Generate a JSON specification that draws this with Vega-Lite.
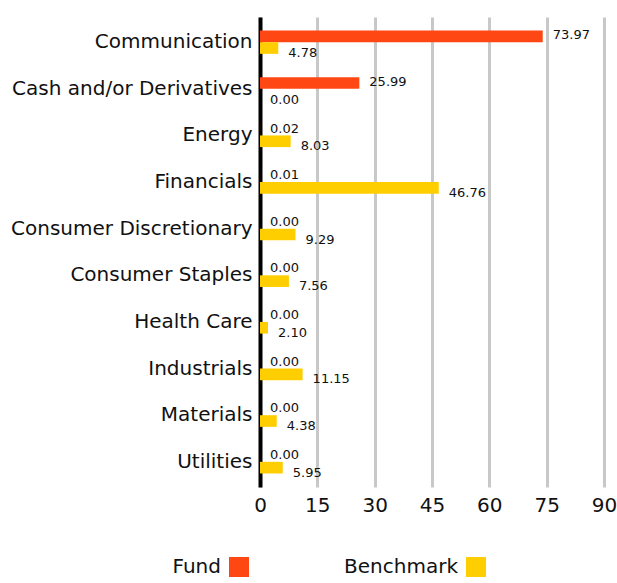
{
  "$schema": "https://vega.github.io/schema/vega-lite/v6.json",
  "autosize": "none",
  "width": 344,
  "height": 470,
  "padding": {"left": 260, "top": 17, "right": 13, "bottom": 96},
  "background": "white",
  "config": {
    "font": "DejaVu Sans",
    "view": {"stroke": null}
  },
  "data": {
    "values": [
      {"sector": "Communication", "series": "Fund", "value": 73.97},
      {"sector": "Communication", "series": "Benchmark", "value": 4.78},
      {"sector": "Cash and/or Derivatives", "series": "Fund", "value": 25.99},
      {"sector": "Cash and/or Derivatives", "series": "Benchmark", "value": 0.00},
      {"sector": "Energy", "series": "Fund", "value": 0.02},
      {"sector": "Energy", "series": "Benchmark", "value": 8.03},
      {"sector": "Financials", "series": "Fund", "value": 0.01},
      {"sector": "Financials", "series": "Benchmark", "value": 46.76},
      {"sector": "Consumer Discretionary", "series": "Fund", "value": 0.00},
      {"sector": "Consumer Discretionary", "series": "Benchmark", "value": 9.29},
      {"sector": "Consumer Staples", "series": "Fund", "value": 0.00},
      {"sector": "Consumer Staples", "series": "Benchmark", "value": 7.56},
      {"sector": "Health Care", "series": "Fund", "value": 0.00},
      {"sector": "Health Care", "series": "Benchmark", "value": 2.10},
      {"sector": "Industrials", "series": "Fund", "value": 0.00},
      {"sector": "Industrials", "series": "Benchmark", "value": 11.15},
      {"sector": "Materials", "series": "Fund", "value": 0.00},
      {"sector": "Materials", "series": "Benchmark", "value": 4.38},
      {"sector": "Utilities", "series": "Fund", "value": 0.00},
      {"sector": "Utilities", "series": "Benchmark", "value": 5.95}
    ]
  },
  "encoding": {
    "y": {
      "field": "sector",
      "type": "nominal",
      "sort": null,
      "scale": {"paddingInner": 0.5, "paddingOuter": 0.29},
      "axis": {
        "title": null,
        "domainColor": "#000000",
        "domainWidth": 4,
        "ticks": false,
        "labelFontSize": 20,
        "labelColor": "#111111",
        "labelPadding": 8,
        "labelLimit": 300
      }
    },
    "yOffset": {
      "field": "series",
      "type": "nominal",
      "sort": ["Fund", "Benchmark"],
      "scale": {"paddingInner": 0, "paddingOuter": 0}
    },
    "x": {
      "field": "value",
      "type": "quantitative",
      "scale": {"domain": [0, 90], "nice": false},
      "axis": {
        "title": null,
        "values": [0, 15, 30, 45, 60, 75, 90],
        "domain": false,
        "ticks": false,
        "grid": true,
        "gridColor": "#c8c8c8",
        "gridWidth": 3,
        "labelFontSize": 20,
        "labelColor": "#111111",
        "labelPadding": 8,
        "labelFlush": false
      }
    }
  },
  "layer": [
    {
      "mark": {"type": "bar"},
      "encoding": {
        "color": {
          "field": "series",
          "type": "nominal",
          "scale": {"domain": ["Fund", "Benchmark"], "range": ["#ff4713", "#ffce00"]},
          "legend": {
            "title": null,
            "orient": "none",
            "legendX": -31,
            "legendY": 540,
            "direction": "horizontal",
            "symbolType": "square",
            "symbolSize": 400,
            "symbolStrokeWidth": 0,
            "symbolOpacity": 1,
            "labelFontSize": 20,
            "labelColor": "#111111",
            "labelAlign": "right",
            "labelOffset": -28,
            "columnPadding": 95
          }
        }
      }
    },
    {
      "transform": [{"filter": "datum.series === 'Fund'"}],
      "mark": {"type": "text", "align": "left", "baseline": "middle", "dx": 10, "dy": -1, "fontSize": 13, "color": "#111111"},
      "encoding": {"text": {"field": "value", "type": "quantitative", "format": ".2f"}}
    },
    {
      "transform": [{"filter": "datum.series === 'Benchmark'"}],
      "mark": {"type": "text", "align": "left", "baseline": "middle", "dx": 10, "dy": 5, "fontSize": 13, "color": "#111111"},
      "encoding": {"text": {"field": "value", "type": "quantitative", "format": ".2f"}}
    }
  ]
}
